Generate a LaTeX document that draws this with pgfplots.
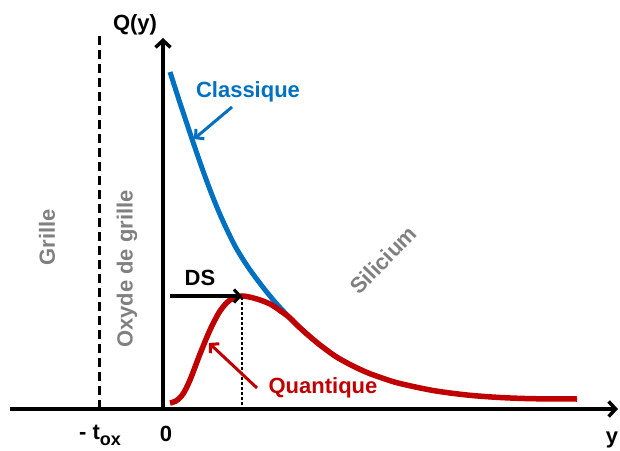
\documentclass[border=0pt]{standalone}
\usepackage{pgfplots}
\pgfplotsset{compat=1.18}
\usepackage{fontspec}
\setmainfont{Liberation Sans}
\usetikzlibrary{arrows.meta}
\definecolor{bleu}{HTML}{0070C0}
\definecolor{rouge}{HTML}{C00000}
\definecolor{gris}{HTML}{808080}
\tikzset{lab/.style={inner sep=0pt, font=\bfseries\fontsize{22}{24}\selectfont}}

\begin{document}
\begin{tikzpicture}[x=1pt,y=1pt]
\useasboundingbox (0,0) rectangle (620,450);
\begin{axis}[
  at={(0,0)}, anchor=origin,
  scale only axis, width=620pt, height=450pt,
  xmin=0, xmax=620, ymin=0, ymax=450,
  hide axis, clip=false,
]
% oxide / gate interface
\draw[line width=3pt, dash pattern=on 9pt off 5pt] (axis cs:99,41) -- (axis cs:99,415);

% classical charge profile
\addplot[smooth, line width=5pt, bleu] coordinates {
  (170,378) (180,347) (192,311) (202,282) (212,255) (222,231) (235,204)
  (248,183) (262,164) (275,148) (288,134) (298,124) (308,115)
};
% quantum charge profile
\addplot[smooth, line width=5.5pt, rouge] coordinates {
  (170,47) (176,49) (183,56) (190,70) (200,96) (210,120) (220,139)
  (230,150) (242,154) (257,151) (270,146) (280,139.5) (290,132)
  (298,124) (308,115) (320,105) (335,94) (350,85.5) (367,77.5) (385,71)
  (400,66.5) (433,59.5) (467,55) (500,52.5) (533,51.3) (577,51)
};

% axes
\draw[line width=3.5pt, -{Straight Barb[length=7pt,width=15pt]}] (axis cs:10,41) -- (axis cs:618,41);
\draw[line width=3.5pt, -{Straight Barb[length=7pt,width=15pt]}] (axis cs:163,39.25) -- (axis cs:163,412);

% dark-space distance
\draw[line width=1.2pt, dash pattern=on 3pt off 2pt] (axis cs:242,153) -- (axis cs:242,42);
\draw[line width=3pt, -{Straight Barb[length=6pt,width=13pt]}] (axis cs:170,154) -- (axis cs:242,154);
\node[lab] at (axis cs:200,172) {DS};

% curve labels
\draw[line width=3pt, bleu, -{Straight Barb[length=6pt,width=13pt]}] (axis cs:232,343) -- (axis cs:194,311);
\node[lab, text=bleu] at (axis cs:248,358) {Classique};
\draw[line width=3pt, rouge, -{Straight Barb[length=6pt,width=13pt]}] (axis cs:257,62) -- (axis cs:209,107);
\node[lab, text=rouge] at (axis cs:323,62) {Quantique};

% axis labels
\node[lab] at (axis cs:135,425) {Q(y)};
\node[lab] at (axis cs:612,10) {y};
\node[lab] at (axis cs:166,16) {0};
\node[lab] at (axis cs:100,15) {- t\raisebox{-6pt}{\fontsize{18}{18}\selectfont ox}};

% regions
\node[lab, text=gris, rotate=90] at (axis cs:47,213) {Grille};
\node[lab, text=gris, rotate=90] at (axis cs:127,181) {Oxyde de grille};
\node[lab, text=gris, rotate=46] at (axis cs:383,190) {Silicium};
\end{axis}
\end{tikzpicture}
\end{document}
